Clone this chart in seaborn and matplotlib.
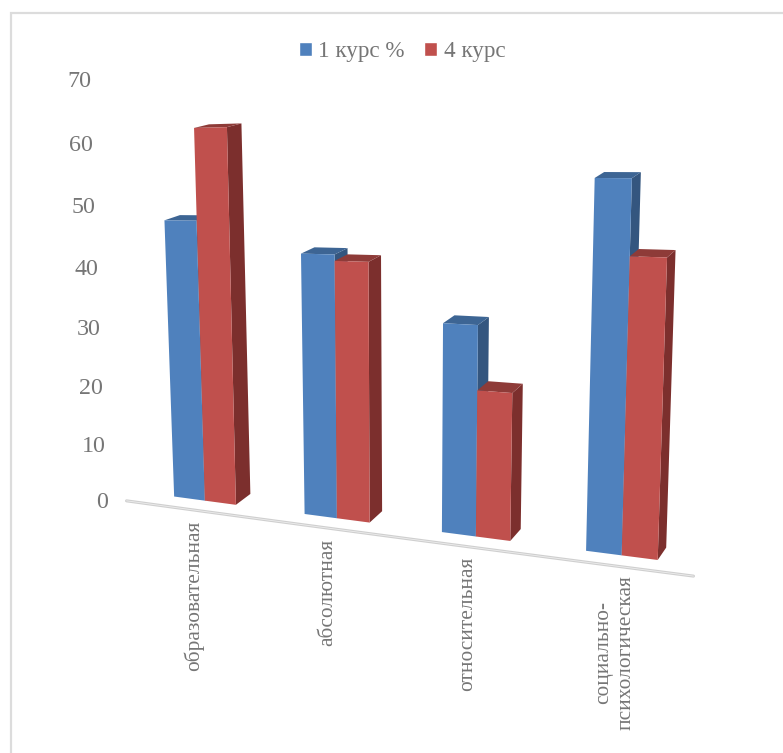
import numpy as np
import pandas as pd
import seaborn as sns
import matplotlib
matplotlib.use("Agg")
import matplotlib.pyplot as plt
from matplotlib.patches import Polygon, Rectangle
from matplotlib.transforms import IdentityTransform, Transform

categories = ["образовательная", "абсолютная", "относительная", "социально-\nпсихологическая"]
course_1 = [48, 43, 33, 55]
course_4 = [63, 42, 23, 44]
series_names = ["1 курс %", "4 курс"]
y_ticks = [0, 10, 20, 30, 40, 50, 60, 70]

W, H = 783, 753
TEXT = "#767676"
FRONT = ["#4F81BD", "#C0504D"]
SIDE = ["#34567F", "#7C2F2D"]
TOP = ["#3D6594", "#8E3B38"]

# view warp fitted from (x, value, depth) -> (pixel x, pixel y) anchors.
# the office 3d view is not a clean single camera so a low order polynomial fits better
anchors = np.array([
    (-0.24, 0, 0, 174, 497), (0, 0, 0, 205, 501), (0.24, 0, 0, 236, 505), (0.24, 0, 1, 250, 494),
    (-0.24, 48, 0, 165, 219), (0, 63, 0, 194, 127), (0.24, 63, 0, 227, 129), (0.24, 63, 1, 241, 124),
    (0.76, 0, 0, 305, 514), (1, 0, 0, 337, 518), (1.24, 0, 0, 369, 522), (1.24, 0, 1, 382, 511),
    (0.76, 43, 0, 301, 254), (0.76, 43, 1, 315, 247), (1, 42, 0, 334, 259), (1.24, 42, 0, 368, 263),
    (1.24, 42, 1, 381, 255),
    (1.76, 0, 0, 442, 532), (2, 0, 0, 476, 536), (2.24, 0, 0, 510, 541), (2.24, 0, 1, 521, 529),
    (1.76, 33, 0, 443, 324), (2, 33, 0, 478, 327), (1.76, 33, 1, 455, 315), (2, 23, 0, 477, 390),
    (2.24, 23, 0, 512, 393), (2.24, 23, 1, 523, 384),
    (2.76, 0, 0, 587, 551), (3, 0, 0, 622, 555), (3.24, 0, 0, 657, 560), (3.24, 0, 1, 666, 548),
    (2.76, 55, 0, 595, 176), (3, 55, 0, 632, 179), (3, 55, 1, 641, 172), (3, 44, 0, 630, 256),
    (3.24, 44, 0, 667, 258), (3.24, 44, 1, 675, 250),
], dtype=float)


def basis(x, v, z):
    return np.stack([np.ones_like(x), x, v, z, x * v, x * z, v * z, x * x, v * v], axis=-1)


coef = np.linalg.lstsq(basis(anchors[:, 0], anchors[:, 1], anchors[:, 2]), anchors[:, 3:], rcond=None)[0]


def project(x, v, z=0.0):
    """model point -> display coords (origin bottom left)"""
    x, v = np.asarray(x, float), np.asarray(v, float)
    pts = basis(x, v, np.full_like(x, z)) @ coef
    return np.stack([pts[..., 0], H - pts[..., 1]], axis=-1)


class ViewWarp(Transform):
    input_dims = 2
    output_dims = 2

    def transform_non_affine(self, values):
        return project(values[:, 0], values[:, 1])


df = pd.DataFrame({
    "category": categories * 2,
    "value": course_1 + course_4,
    "course": [series_names[0]] * 4 + [series_names[1]] * 4,
})

sns.set_theme(style="white")
plt.rcParams["font.family"] = ["Liberation Serif", "DejaVu Sans"]

fig = plt.figure(figsize=(W / 100, H / 100), dpi=100)
ax = fig.add_axes([0, 0, 1, 1])
sns.barplot(data=df, x="category", y="value", hue="course", palette=FRONT,
            width=0.48, gap=0, saturation=1, ax=ax)
ax.set_axis_off()

disp = IdentityTransform()

# chart frame, only top and left fall inside the picture
fig.add_artist(Rectangle((11, -20), W + 40, H - 13 + 20, transform=disp, fill=False,
                         edgecolor="#DCDCDC", linewidth=1.6))

# floor line
base = project(np.linspace(-0.51, 3.52, 30), np.zeros(30), -0.85)
ax.plot(base[:, 0], base[:, 1], transform=disp, color="#CFCFCF", lw=2.2, zorder=1, clip_on=False)
ax.plot(base[:, 0], base[:, 1], transform=disp, color="#EDEDED", lw=0.6, zorder=1.1, clip_on=False)

# extrude the seaborn bars
warp = ViewWarp()
for s, bars in enumerate(ax.containers):
    for bar in bars:
        x0, x1 = bar.get_x(), bar.get_x() + bar.get_width()
        v = bar.get_height()
        z = 2 + s
        side = project(np.array([x1, x1, x1, x1]), np.array([0, 0, v, v]))
        side[1:3] = project(np.array([x1, x1]), np.array([0, v]), 1.0)
        top = project(np.array([x0, x1, x1, x0]), np.array([v, v, v, v]))
        top[2:] = project(np.array([x1, x0]), np.array([v, v]), 1.0)
        ax.add_patch(Polygon(side, transform=disp, color=SIDE[s], lw=0, zorder=z, clip_on=False))
        ax.add_patch(Polygon(top, transform=disp, color=TOP[s], lw=0, zorder=z + 0.1, clip_on=False))
        bar.set_transform(warp)
        bar.set_zorder(z + 0.2)
        bar.set_clip_on(False)
        bar.set_linewidth(0)

# value labels follow the left edge of the perspective, a bit taller than the bars
for t in y_ticks:
    p = project(np.array(-0.61), np.array(t * 1.02), -1.2)
    ax.text(p[0], p[1], str(t), transform=disp, ha="right", va="center",
            fontsize=17.3, color=TEXT)

for i, name in enumerate(categories):
    p = project(np.array(i), np.array(0))
    ax.text(p[0] - 11 + 1.4 * i, p[1] - 20, name, transform=disp, rotation=90, ha="center", va="top",
            multialignment="center", fontsize=15.4, color=TEXT, linespacing=1.3)

sns.move_legend(ax, "center", bbox_to_anchor=(402 / W, 1 - 52 / H), ncol=2, title=None,
                frameon=False, fontsize=16.7, labelcolor=TEXT, handlelength=0.56,
                handleheight=0.56, handletextpad=0.28, columnspacing=0.85)

fig.savefig("out.png", dpi=100, facecolor="white")
